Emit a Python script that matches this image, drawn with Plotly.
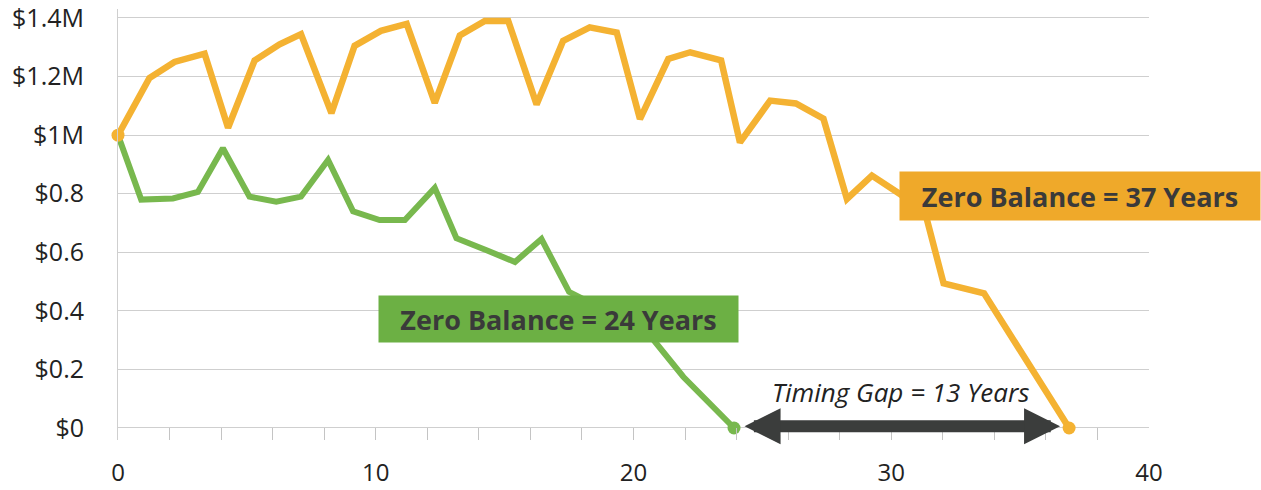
import plotly.graph_objects as go

# ---- data ----
orange_years = [0, 1.22, 2.19, 3.36, 4.27, 5.3, 6.27, 7.1, 8.28, 9.18, 10.2, 11.2,
                12.29, 13.26, 14.23, 15.14, 16.24, 17.27, 18.3, 19.35, 20.25, 21.35,
                22.2, 23.4, 24.13, 25.3, 26.3, 27.37, 28.28, 29.25, 30.35, 31.3,
                32.03, 33.6, 36.9]
orange_vals = [1.0, 1.195, 1.25, 1.278, 1.025, 1.255, 1.31, 1.345, 1.075, 1.305, 1.356,
               1.38, 1.11, 1.34, 1.39, 1.39, 1.105, 1.322, 1.368, 1.35, 1.055, 1.26,
               1.283, 1.255, 0.975, 1.118, 1.108, 1.056, 0.782, 0.862, 0.798, 0.74,
               0.494, 0.46, 0.0]

green_years = [0, 0.9, 2.13, 3.1, 4.07, 5.1, 6.14, 7.1, 8.15, 9.12, 10.15, 11.13,
               12.29, 13.13, 14.3, 15.4, 16.43, 17.5, 18.5, 19.5, 20.6, 21.93, 23.9]
green_vals = [1.0, 0.78, 0.784, 0.806, 0.955, 0.79, 0.773, 0.79, 0.915, 0.74, 0.71,
              0.71, 0.82, 0.648, 0.607, 0.567, 0.645, 0.465, 0.42, 0.38, 0.32, 0.175, 0.0]

y_ticks = [0, 0.2, 0.4, 0.6, 0.8, 1.0, 1.2, 1.4]
y_tick_labels = ["$0", "$0.2", "$0.4", "$0.6", "$0.8", "$1M", "$1.2M", "$1.4M"]
x_ticks = [0, 10, 20, 30, 40]

green_label = "Zero Balance = 24 Years"
orange_label = "Zero Balance = 37 Years"
gap_label = "Timing Gap = 13 Years"

ORANGE = "#F4B232"
ORANGE_BOX = "#EFA92A"
GREEN = "#78B84E"
GREEN_BOX = "#6CB044"
DARK = "#3a3a3a"

fig = go.Figure()

fig.add_trace(go.Scatter(
    x=green_years, y=green_vals, mode="lines",
    line=dict(color=GREEN, width=6), hoverinfo="skip", showlegend=False))
fig.add_trace(go.Scatter(
    x=orange_years, y=orange_vals, mode="lines",
    line=dict(color=ORANGE, width=6.5), hoverinfo="skip", showlegend=False))

# end markers
fig.add_trace(go.Scatter(
    x=[green_years[-1]], y=[green_vals[-1]], mode="markers",
    marker=dict(color=GREEN, size=13), cliponaxis=False, hoverinfo="skip", showlegend=False))
fig.add_trace(go.Scatter(
    x=[orange_years[0], orange_years[-1]], y=[orange_vals[0], orange_vals[-1]], mode="markers",
    marker=dict(color=ORANGE, size=13), cliponaxis=False, hoverinfo="skip", showlegend=False))

# labels
fig.add_annotation(x=17.09, y=0.372, xref="x", yref="y", text="<b>" + green_label + "</b>",
                   showarrow=False, bgcolor=GREEN_BOX, width=359, height=46, borderpad=0,
                   font=dict(family="Open Sans", size=27, color=DARK))
fig.add_annotation(x=37.34, y=0.792, xref="x", yref="y", text="<b>" + orange_label + "</b>",
                   showarrow=False, bgcolor=ORANGE_BOX, width=360, height=48, borderpad=0,
                   font=dict(family="Open Sans", size=27, color=DARK))
fig.add_annotation(x=30.35, y=0.123, xref="x", yref="y", text="<i>" + gap_label + "</i>",
                   showarrow=False, font=dict(family="Open Sans", size=26, color="#222"))

# double-headed arrow
fig.add_annotation(x=36.55, y=0.006, ax=24.25, ay=0.006, xref="x", yref="y",
                   axref="x", ayref="y", text="", showarrow=True,
                   arrowhead=2, startarrowhead=2, arrowside="end+start",
                   arrowsize=0.6, startarrowsize=0.6, arrowwidth=12, arrowcolor="#3b3d3c")

fig.update_layout(
    width=1261, height=490,
    margin=dict(l=118, r=112, t=9, b=50),
    paper_bgcolor="white", plot_bgcolor="white",
    font=dict(family="Open Sans", size=25, color="#222"),
    xaxis=dict(range=[0, 40], tickvals=x_ticks, showgrid=False, zeroline=False,
               showline=False, ticks="inside", ticklen=12, tickcolor="#c4c4c4",
               minor=dict(dtick=2, ticks="inside", ticklen=12, tickcolor="#c4c4c4"),
               automargin=False, ticklabeloverflow="allow",
               ticklabelstandoff=16, tickfont=dict(size=24, color="#222")),
    yaxis=dict(range=[-0.041, 1.4307], tickvals=y_ticks, ticktext=y_tick_labels,
               showgrid=True, gridcolor="#cfcfcf", gridwidth=1, zeroline=False,
               showline=True, linecolor="#cfcfcf", linewidth=1, automargin=False,
               ticklabeloverflow="allow",
               ticklabelstandoff=28, tickfont=dict(size=25, color="#222")),
)

fig.write_html("out.html", config={"displayModeBar": False},
               post_script="document.body.style.margin='0px';")
